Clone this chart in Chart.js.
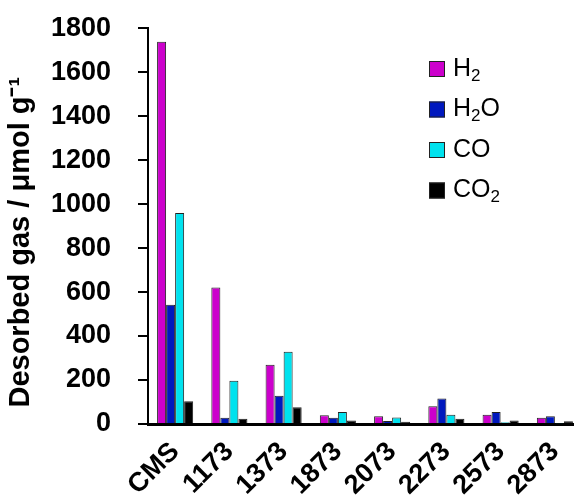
<!DOCTYPE html>
<html>
<head>
<meta charset="utf-8">
<script src="https://cdn.jsdelivr.net/npm/chart.js@4"></script>
<style>
html,body{margin:0;padding:0;background:#fff;overflow:hidden;}
#wrap{width:582px;height:504px;overflow:hidden;position:relative;}
#c{position:absolute;left:0;top:-15px;}
</style>
</head>
<body>
<div id="wrap"><canvas id="c" width="582" height="519"></canvas></div>
<script>
const categories = ['CMS','1173','1373','1873','2073','2273','2573','2873'];
const seriesNames = ['H₂','H₂O','CO','CO₂'];
const h2  = [1738, 621, 270, 40, 35, 81, 42, 28];
const h2o = [542, 28, 128, 28, 14, 116, 55, 35];
const co  = [960, 197, 329, 55, 29, 42, 8, 3];
const co2 = [103, 24, 76, 16, 10, 24, 16, 12];
const yTicks = [0,200,400,600,800,1000,1200,1400,1600,1800];
const yTitle = 'Desorbed gas / μmol g⁻¹';

const colors = ['#CC00CC','#0018BE','#00E2EE','#000000'];
const values = [h2,h2o,co,co2];

const subMap = {'₂':'2'};

const legendPlugin = {
  id:'customLegend',
  afterDraw(chart, args, opts){
    const ctx = chart.ctx;
    ctx.save();
    chart.data.datasets.forEach((ds,i)=>{
      const y = opts.y0 + i*opts.dy;
      ctx.fillStyle = ds.backgroundColor;
      ctx.fillRect(opts.x, y - opts.box/2, opts.box, opts.box);
      ctx.lineWidth = 1;
      ctx.strokeStyle = '#222';
      ctx.strokeRect(opts.x+0.5, y - opts.box/2+0.5, opts.box-1, opts.box-1);
      let tx = opts.x + opts.box + opts.gap;
      ctx.fillStyle = '#000';
      ctx.textBaseline = 'middle';
      ctx.textAlign = 'left';
      for (const ch of ds.label){
        if (subMap[ch]){
          ctx.font = `${opts.subSize}px "Liberation Sans", Arial, sans-serif`;
          ctx.fillText(subMap[ch], tx, y + opts.subShift);
          tx += ctx.measureText(subMap[ch]).width;
        } else {
          ctx.font = `${opts.size}px "Liberation Sans", Arial, sans-serif`;
          ctx.fillText(ch, tx, y);
          tx += ctx.measureText(ch).width;
        }
      }
    });
    ctx.restore();
  }
};

new Chart(document.getElementById('c'), {
  type:'bar',
  data:{
    labels: categories,
    datasets: seriesNames.map((n,i)=>({
      label:n,
      data: values[i],
      backgroundColor: colors[i],
      borderColor:'#222',
      borderWidth:1,
      categoryPercentage:0.665,
      barPercentage:1
    }))
  },
  options:{
    responsive:false,
    animation:false,
    layout:{padding:{top:12,left:0,right:0,bottom:0}},
    plugins:{
      legend:{display:false},
      tooltip:{enabled:false},
      customLegend:{x:429,y0:84,dy:40.5,box:16,gap:8,size:25,subSize:17,subShift:7}
    },
    scales:{
      x:{
        grid:{display:false},
        border:{display:true,color:'#000',width:3},
        ticks:{color:'#000',font:{family:'"Liberation Sans", Arial, sans-serif',size:27,weight:'bold'},
          minRotation:45,maxRotation:45,padding:4},
        afterFit(s){ s.height = 80; }
      },
      y:{
        min:0,max:1800,
        afterBuildTicks(s){ s.ticks = yTicks.map(v=>({value:v})); },
        ticks:{color:'#000',font:{family:'"Liberation Sans", Arial, sans-serif',size:27,weight:'bold'},padding:27,
          callback:(v)=>String(v)},
        grid:{drawOnChartArea:false,drawTicks:true,tickLength:10,color:'#000',lineWidth:2},
        border:{display:true,color:'#000',width:2},
        title:{display:true,text:yTitle + '    ',color:'#000',
          font:{family:'"Liberation Sans", Arial, sans-serif',size:29,weight:'bold'},padding:{top:4,bottom:0}},
        afterFit(s){ s.width = 148; }
      }
    }
  },
  plugins:[legendPlugin]
});
</script>
</body>
</html>
